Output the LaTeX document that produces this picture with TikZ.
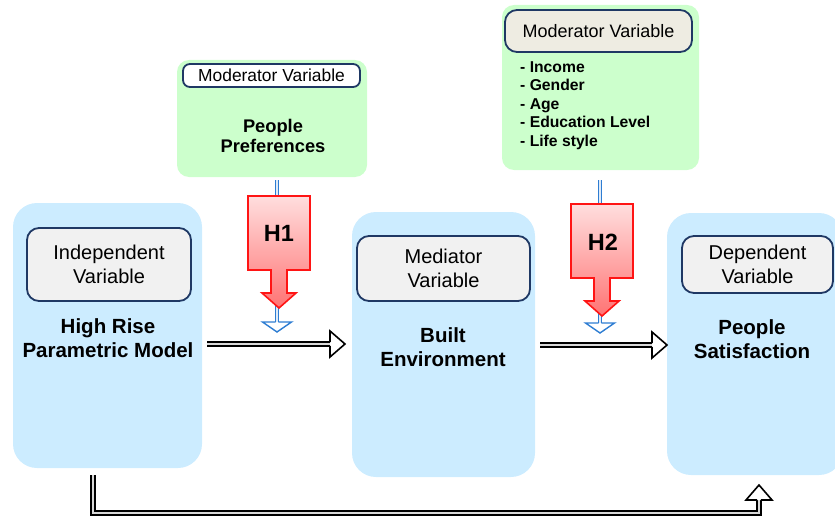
\documentclass[tikz,border=0pt]{standalone}
\usepackage{fontspec}
\setmainfont{Liberation Sans}
\usetikzlibrary{calc}

\definecolor{boxblue}{RGB}{204,236,255}
\definecolor{boxgreen}{RGB}{204,255,204}
\definecolor{labelgray}{RGB}{241,241,241}
\definecolor{labelbeige}{RGB}{238,236,226}
\definecolor{navy}{RGB}{31,56,100}
\definecolor{flowblue}{RGB}{46,125,210}
\definecolor{calloutred}{RGB}{255,20,20}
\definecolor{pinktop}{RGB}{255,222,222}
\definecolor{pinkbot}{RGB}{255,115,115}

\tikzset{
  bigbox/.style={fill=boxblue, rounded corners=24, inner sep=0, outer sep=0},
  modbox/.style={fill=boxgreen, rounded corners=12, inner sep=0, outer sep=0},
  varbox/.style={draw=navy, line width=1.8pt, fill=labelgray, rounded corners=12,
    inner sep=0, outer sep=0, align=center, font=\fontsize{20}{24.5}\selectfont},
  maintext/.style={inner sep=0, align=center, font=\bfseries\fontsize{20.5}{24}\selectfont},
  hollowline/.style={draw=black, line width=1.6pt, double=black!15, double distance=2.3pt},
  blueline/.style={draw=flowblue, line width=1.2pt, double=white!85!flowblue, double distance=1.5pt},
  redcall/.style={draw=calloutred, line width=1.6pt, line join=miter,
    top color=pinktop, bottom color=pinkbot},
  hollowhead/.pic={
    \fill[white] (0,0) -- (-15,-13) -- (-15,13) -- cycle;
    \draw[black, line width=1.6pt, line join=miter]
      (-15,-1.95) -- (-15,-13) -- (0,0) -- (-15,13) -- (-15,1.95);
  },
  bluehead/.pic={
    \fill[white] (0,0) -- (-10,-14.5) -- (-10,14.5) -- cycle;
    \draw[flowblue, line width=1.4pt, line join=miter]
      (-10,-1.35) -- (-10,-14.5) -- (0,0) -- (-10,14.5) -- (-10,1.35);
  },
}

% down-pointing callout arrow hanging from a top-centre coordinate
\newcommand{\downcallout}[1]{%
  \draw[redcall] (#1) ++(-31,0) -- ++(62,0) -- ++(0,74) -- ++(-23,0) -- ++(0,23)
    -- ++(9,0) -- ++(-17,15) -- ++(-17,-15) -- ++(9,0) -- ++(0,-23) -- ++(-23,0) -- cycle;}

\begin{document}
\begin{tikzpicture}[x=1pt, y=-1pt]
\useasboundingbox (0,0) rectangle (835,519);
\clip (0,0) rectangle (835,519);

% ---- main variable boxes
\node[bigbox, minimum width=189, minimum height=265] (ind) at (107.5,335.5) {};
\node[bigbox, minimum width=183, minimum height=265] (med) at (443.5,344.5) {};
\node[bigbox, minimum width=176, minimum height=262] (dep) at (755,344) {};

\node[varbox, minimum width=164, minimum height=73] (indlab) at (109,264.5) {Independent\\Variable};
\node[varbox, minimum width=173, minimum height=65] (medlab) at (443.5,268.5) {Mediator\\Variable};
\node[varbox, minimum width=151, minimum height=57] (deplab) at (757.5,264.5) {Dependent\\Variable};

\node[maintext] (indtxt) at (108,338.5) {High Rise\\Parametric Model};
\node[maintext] (medtxt) at (443,347) {Built\\Environment};
\node[maintext] (deptxt) at (752,339) {People\\Satisfaction};

% ---- moderator boxes
\node[modbox, minimum width=190, minimum height=117] (mod1) at (272,118.5) {};
\node[draw=navy, line width=1.8pt, fill=white, rounded corners=7, inner sep=0,
      minimum width=177, minimum height=23, font=\fontsize{17.4}{20}\selectfont]
      (mod1lab) at (271.5,75.5) {Moderator Variable};
\node[maintext, font=\bfseries\fontsize{18.3}{20.5}\selectfont] (mod1txt) at (273,136) {People\\Preferences};

\node[modbox, minimum width=197, minimum height=165] (mod2) at (600.5,87.5) {};
\node[draw=navy, line width=1.8pt, fill=labelbeige, rounded corners=12, inner sep=0,
      minimum width=187, minimum height=42, font=\fontsize{18}{21}\selectfont]
      (mod2lab) at (598.5,31) {Moderator Variable};
\node[inner sep=0, anchor=west, align=left, font=\bfseries\fontsize{15.7}{18.5}\selectfont]
      (mod2txt) at (520,105.5) {- Income\\- Gender\\- Age\\- Education Level\\- Life style};

% ---- moderating influence lines
\coordinate (b1s) at (277,180);
\coordinate (b1t) at (277,332);
\draw[blueline] (b1s) -- ($(b1t)+(0,-10)$);
\pic[rotate=-90] at (b1t) {bluehead};

\coordinate (b2s) at (600,180);
\coordinate (b2t) at (600,333);
\draw[blueline] (b2s) -- ($(b2t)+(0,-10)$);
\pic[rotate=-90] at (b2t) {bluehead};

% ---- hypothesis callouts
\coordinate (h1top) at (279,196);
\downcallout{h1top}
\node[inner sep=0, font=\bfseries\fontsize{23.5}{26}\selectfont] (h1) at (279,233) {H1};

\coordinate (h2top) at (602,204);
\downcallout{h2top}
\node[inner sep=0, font=\bfseries\fontsize{23.5}{26}\selectfont] (h2) at (603,242) {H2};

% ---- main flow arrows
\coordinate (a1s) at ($(ind.east)+(5,8.5)$);
\coordinate (a1t) at ($(med.west |- a1s)+(-7,0)$);
\draw[hollowline] (a1s) -- ($(a1t)+(-15,0)$);
\pic at (a1t) {hollowhead};

\coordinate (a2s) at ($(med.east)+(5,0.5)$);
\coordinate (a2t) at ($(dep.west |- a2s)+(0,0)$);
\draw[hollowline] (a2s) -- ($(a2t)+(-15,0)$);
\pic at (a2t) {hollowhead};

\coordinate (bs) at ($(ind.south)+(-14.5,7)$);
\coordinate (bt) at ($(dep.south)+(4,10)$);
\draw[hollowline, line join=miter] (bs) -- (bs |- 0,513) -- (bt |- 0,513) -- ($(bt)+(0,15)$);
\pic[rotate=90] at (bt) {hollowhead};

\end{tikzpicture}
\end{document}
